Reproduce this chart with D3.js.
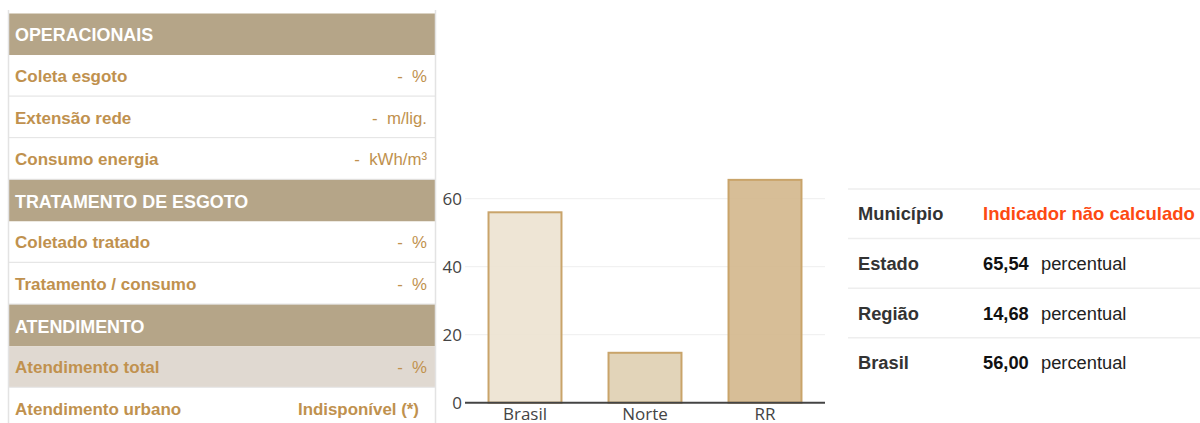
<!DOCTYPE html>
<html><head><meta charset="utf-8">
<script src="https://cdn.jsdelivr.net/npm/d3@7"></script>
<style>html,body{margin:0;padding:0;background:#fff;overflow:hidden}svg{display:block}</style>
</head><body>
<svg id="c" width="1200" height="423"></svg>
<script>
// ---- data ----
const categories = ["Brasil", "Norte", "RR"];
const values = [56.00, 14.68, 65.54];
const barFills = ["#ede3d1", "#e0d0b3", "#d4b88e"];
const yTicks = [0, 20, 40, 60];

const leftRows = [
  {type: "header", label: "OPERACIONAIS"},
  {type: "row", label: "Coleta esgoto", value: "-  %"},
  {type: "row", label: "Extensão rede", value: "-  m/lig."},
  {type: "row", label: "Consumo energia", value: "-  kWh/m³"},
  {type: "header", label: "TRATAMENTO DE ESGOTO"},
  {type: "row", label: "Coletado tratado", value: "-  %"},
  {type: "row", label: "Tratamento / consumo", value: "-  %"},
  {type: "header", label: "ATENDIMENTO"},
  {type: "active", label: "Atendimento total", value: "-  %"},
  {type: "row", label: "Atendimento urbano", value: "Indisponível (*)"}
];
const rightLabels = ["Município", "Estado", "Região", "Brasil"];
const rightNumbers = [null, "65,54", "14,68", "56,00"];
const rightUnit = "percentual";
const notCalc = "Indicador não calculado";

const svg = d3.select("#c");
const ARIAL = "Liberation Sans, Arial, sans-serif";

// ---- left table ----
const L = {x0: 8, x1: 435, y0: 13.5, rh: 41.6};
const lt = svg.append("g");
leftRows.forEach((r, i) => {
  const y = L.y0 + i * L.rh;
  const fill = r.type === "header" ? "#b5a588" : (r.type === "active" ? "#e0d9d1" : "#fff");
  lt.append("rect").attr("x", L.x0).attr("y", y).attr("width", L.x1 - L.x0).attr("height", L.rh).attr("fill", fill);
  if (r.type !== "header") {
    lt.append("line").attr("x1", L.x0).attr("x2", L.x1).attr("y1", y + L.rh - 0.5).attr("y2", y + L.rh - 0.5)
      .attr("stroke", "#e6e6e6").attr("stroke-width", 1.5);
  }
  const isH = r.type === "header";
  lt.append("text").attr("x", 15).attr("y", y + L.rh / 2 + (isH ? 7 : 6))
    .attr("font-family", ARIAL).attr("font-weight", "bold").attr("font-size", isH ? 17.9 : 17)
    .attr("fill", isH ? "#fff" : "#c0914e").text(r.label);
  if (r.value) {
    const isInd = r.value.startsWith("Indis");
    lt.append("text").attr("x", isInd ? 419 : 427).attr("y", y + L.rh / 2 + 6).attr("text-anchor", "end")
      .attr("font-family", ARIAL).attr("font-weight", isInd ? "bold" : "normal").attr("font-size", isInd ? 16.9 : 16.8)
      .attr("fill", "#c0914e").style("white-space", "pre").text(r.value);
  }
});
lt.append("line").attr("x1", L.x0 + 0.5).attr("x2", L.x0 + 0.5).attr("y1", 10).attr("y2", 423).attr("stroke", "#e3e3e3").attr("stroke-width", 1.5);
lt.append("line").attr("x1", L.x1 + 0.5).attr("x2", L.x1 + 0.5).attr("y1", 10).attr("y2", 423).attr("stroke", "#e3e3e3").attr("stroke-width", 1.5);

// ---- bar chart ----
const x = d3.scaleBand().domain(categories).range([465, 825]).paddingInner(0.392).paddingOuter(0.196);
const y = d3.scaleLinear().domain([0, 60]).range([402.7, 198.7]);
const ch = svg.append("g");
ch.selectAll("line.grid").data(yTicks.filter(d => d > 0)).join("line").attr("class", "grid")
  .attr("x1", 465).attr("x2", 825).attr("y1", d => y(d)).attr("y2", d => y(d))
  .attr("stroke", "#eeeeee").attr("stroke-width", 1);
ch.selectAll("text.yt").data(yTicks).join("text").attr("class", "yt")
  .attr("x", 462).attr("y", d => y(d) + 6).attr("text-anchor", "end")
  .attr("font-family", "Open Sans, sans-serif").attr("font-size", 17).attr("fill", "#444").text(d => d);
ch.selectAll("rect.bar").data(values).join("rect").attr("class", "bar")
  .attr("x", (d, i) => x(categories[i])).attr("width", x.bandwidth())
  .attr("y", d => y(d)).attr("height", d => y(0) - y(d))
  .attr("fill", (d, i) => barFills[i]).attr("fill-opacity", 0.92)
  .attr("stroke", "#c9a46a").attr("stroke-width", 2);
ch.append("line").attr("x1", 465).attr("x2", 825).attr("y1", y(0)).attr("y2", y(0)).attr("stroke", "#444").attr("stroke-width", 2);
ch.selectAll("text.xt").data(categories).join("text").attr("class", "xt")
  .attr("x", d => x(d) + x.bandwidth() / 2).attr("y", 420).attr("text-anchor", "middle")
  .attr("font-family", "Open Sans, sans-serif").attr("font-size", 17).attr("fill", "#444").text(d => d);

// ---- right table ----
const R = {x0: 848, x1: 1200, y0: 189, rh: 49.6};
const rt = svg.append("g");
rt.append("line").attr("x1", R.x0).attr("x2", R.x1).attr("y1", R.y0).attr("y2", R.y0).attr("stroke", "#eee").attr("stroke-width", 1.5);
rightLabels.forEach((lab, i) => {
  const cy = R.y0 + i * R.rh + R.rh / 2;
  if (i < rightLabels.length - 1)
    rt.append("line").attr("x1", R.x0).attr("x2", R.x1).attr("y1", R.y0 + (i + 1) * R.rh).attr("y2", R.y0 + (i + 1) * R.rh).attr("stroke", "#eee").attr("stroke-width", 1.5);
  rt.append("text").attr("x", 858).attr("y", cy + 6.5).attr("font-family", ARIAL)
    .attr("font-weight", "bold").attr("font-size", 18.3).attr("fill", "#333").text(lab);
  if (rightNumbers[i] === null) {
    rt.append("text").attr("x", 983).attr("y", cy + 6.5).attr("font-family", ARIAL)
      .attr("font-weight", "bold").attr("font-size", 18.5).attr("fill", "#fd4a12").text(notCalc);
  } else {
    rt.append("text").attr("x", 983).attr("y", cy + 6.5).attr("font-family", ARIAL)
      .attr("font-weight", "bold").attr("font-size", 18.3).attr("fill", "#111").text(rightNumbers[i]);
    rt.append("text").attr("x", 1041).attr("y", cy + 6.5).attr("font-family", ARIAL)
      .attr("font-size", 18.3).attr("fill", "#222").text(rightUnit);
  }
});
</script>
</body></html>
